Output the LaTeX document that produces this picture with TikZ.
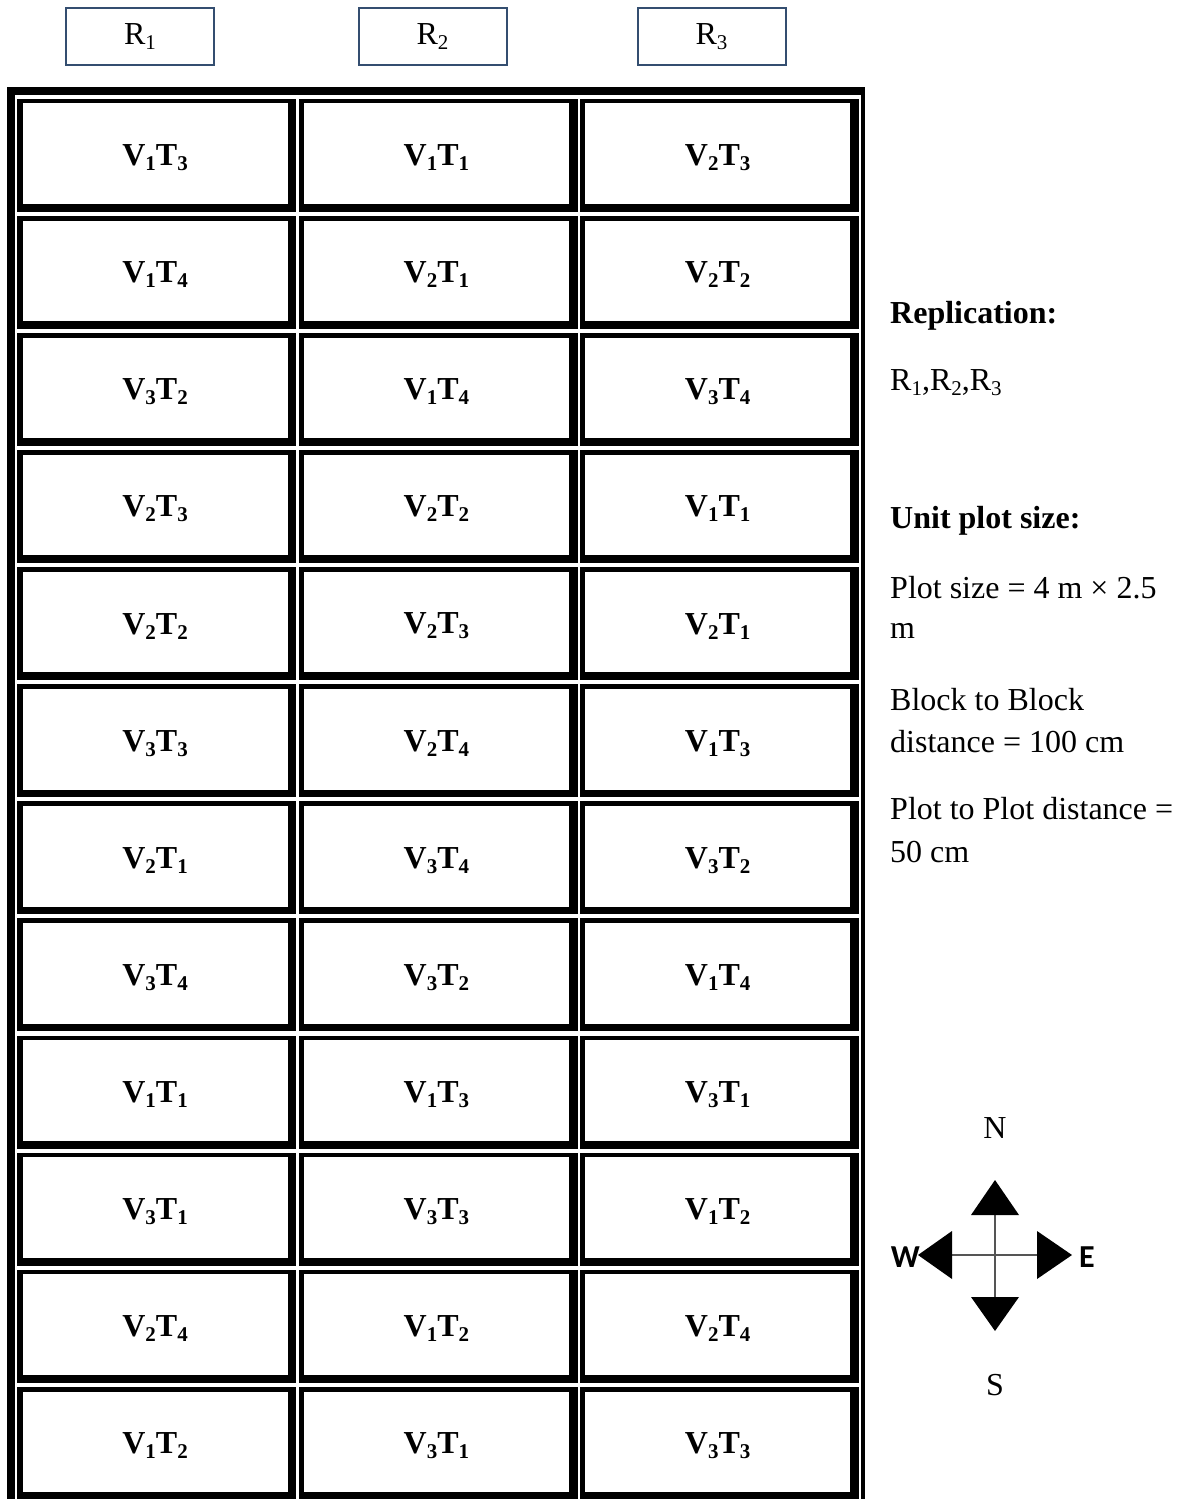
\documentclass[tikz,border=0pt]{standalone}
\usepackage{fontspec}
\setmainfont{Liberation Serif}
\newfontfamily\compassfont{Carlito}
% lowered, smaller index as used for V_i T_j and R_k
\newcommand\sbs[1]{\raisebox{-5pt}{\fontsize{21}{21}\selectfont #1}}
\newcommand\pl[2]{V\sbs{#1}T\sbs{#2}}
\definecolor{boxline}{RGB}{52,78,112}
\definecolor{crossline}{RGB}{85,85,85}

\tikzset{
  txt/.style={font=\fontsize{32}{40}\selectfont, inner sep=0pt},
  cell/.style={minimum width=265pt, minimum height=100.6pt,
               inner sep=0pt, font=\fontsize{32}{40}\selectfont\bfseries},
  repbox/.style={draw=boxline, line width=2pt, fill=white, minimum width=148pt,
                 minimum height=57pt, inner sep=0pt, font=\fontsize{32}{40}\selectfont},
  dir/.style={font=\fontsize{32}{40}\selectfont, inner sep=0pt},
  cdir/.style={font=\compassfont\bfseries\fontsize{32}{38}\selectfont, inner sep=0pt}
}

% one plot: column, row, variety, treatment
\newcommand\plotcell[4]{%
  \pgfmathsetmacro\xa{17.3+281.3*#1}%
  \pgfmathsetmacro\ya{98.7+117.1*(#2-1)}%
  \fill (\xa,\ya) rectangle ++(279,113);
  \fill[white] (\xa+5.3,\ya+4.7) rectangle ++(265,100.6);
  \node[cell] (p-#2-#1) at (\xa+137.8,\ya+59) {\pl{#3}{#4}};
}

\begin{document}
\begin{tikzpicture}[x=1pt,y=-1pt]
\useasboundingbox (0,0) rectangle (1184,1499);

% replication headers
\node[repbox] (r1) at (140,36.5) {R\sbs{1}};
\node[repbox] (r2) at (432.5,36.5) {R\sbs{2}};
\node[repbox] (r3) at (711.5,36.5) {R\sbs{3}};

% outer field frame
\fill (6.7,86.7) rectangle (865,95);
\fill (6.7,86.7) rectangle (15,1499);
\fill (861,95) rectangle (865,1499);

% field layout, rows top to bottom
\foreach \r/\va/\ta/\vb/\tb/\vc/\tc in {
  1/1/3/1/1/2/3,
  2/1/4/2/1/2/2,
  3/3/2/1/4/3/4,
  4/2/3/2/2/1/1,
  5/2/2/2/3/2/1,
  6/3/3/2/4/1/3,
  7/2/1/3/4/3/2,
  8/3/4/3/2/1/4,
  9/1/1/1/3/3/1,
  10/3/1/3/3/1/2,
  11/2/4/1/2/2/4,
  12/1/2/3/1/3/3}{
  \plotcell{0}{\r}{\va}{\ta}
  \plotcell{1}{\r}{\vb}{\tb}
  \plotcell{2}{\r}{\vc}{\tc}
}

% notes
\node[txt, anchor=base west, font=\fontsize{32}{40}\selectfont\bfseries] (rep) at (890,323) {Replication:};
\node[txt, anchor=base west] (repv) at (890,390) {R\sbs{1},R\sbs{2},R\sbs{3}};
\node[txt, anchor=base west, font=\fontsize{32}{40}\selectfont\bfseries] (ups) at (890,528) {Unit plot size:};
\node[txt, anchor=base west] (ps1) at (890,598) {Plot size = 4 m × 2.5};
\node[txt, anchor=base west] (ps2) at (890,638) {m};
\node[txt, anchor=base west] (bb1) at (890,710) {Block to Block};
\node[txt, anchor=base west] (bb2) at (890,752) {distance = 100 cm};
\node[txt, anchor=base west] (pp1) at (890,819) {Plot to Plot distance =};
\node[txt, anchor=base west] (pp2) at (890,862) {50 cm};

% compass
\coordinate (cc) at (995,1255);
\coordinate (cn) at (995,1215);
\coordinate (cs) at (995,1297);
\coordinate (cw) at (952,1255);
\coordinate (ce) at (1037,1255);
\draw[crossline, line width=1.6pt] (cn) -- (cs);
\draw[crossline, line width=1.6pt] (cw) -- (ce);
\fill (971,1215) -- (995,1180) -- (1019,1215) -- cycle;
\fill (971,1297) -- (995,1331) -- (1019,1297) -- cycle;
\fill (952,1231) -- (918,1255) -- (952,1279) -- cycle;
\fill (1037,1231) -- (1072,1255) -- (1037,1279) -- cycle;
\node[dir, anchor=base] (north) at (995,1138) {N};
\node[dir, anchor=base] (south) at (995,1395) {S};
\node[cdir, anchor=base east] (west) at (920,1267) {W};
\node[cdir, anchor=base west] (east) at (1079,1267) {E};
\end{tikzpicture}
\end{document}
